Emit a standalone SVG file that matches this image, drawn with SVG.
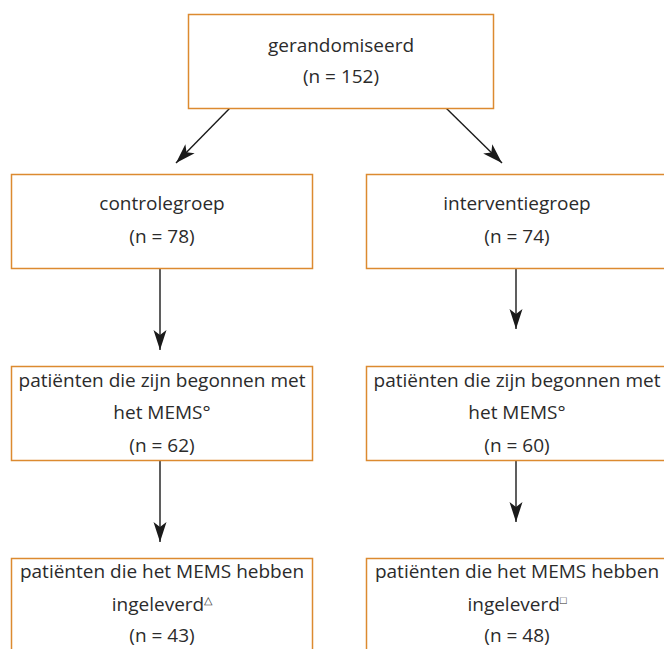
<svg xmlns="http://www.w3.org/2000/svg" width="664" height="649" viewBox="0 0 664 649">
<style>
.box{fill:#fff;stroke:#dc8a30;stroke-width:1.5}
.t{font-family:"Open Sans","Liberation Sans",sans-serif;font-size:19px;fill:#2b2b2b;text-anchor:middle}
.sup{font-size:11px}
.c{stroke:#1a1a1a;stroke-width:1.4;fill:none}
</style>
<defs>
<marker id="ah" markerUnits="userSpaceOnUse" markerWidth="22" markerHeight="14" refX="20" refY="7" orient="auto">
<path d="M0,0.5 L20,7 L0,13.5 L5,7 Z" fill="#1a1a1a"/>
</marker>
</defs>
<rect width="664" height="649" fill="#fff"/>
<g id="connectors">
<line class="c" x1="230" y1="108" x2="176" y2="163" marker-end="url(#ah)"/>
<line class="c" x1="446" y1="108" x2="502" y2="163" marker-end="url(#ah)"/>
<line class="c" x1="160" y1="268" x2="160" y2="350" marker-end="url(#ah)"/>
<line class="c" x1="516" y1="268" x2="516" y2="329" marker-end="url(#ah)"/>
<line class="c" x1="160" y1="460" x2="160" y2="542" marker-end="url(#ah)"/>
<line class="c" x1="516" y1="460" x2="516" y2="522" marker-end="url(#ah)"/>
</g>
<g id="n1">
<rect class="box" x="188.5" y="14.5" width="305" height="94"/>
<text class="t" x="341" y="52">gerandomiseerd</text>
<text class="t" x="341" y="83">(n = 152)</text>
</g>
<g id="n2">
<rect class="box" x="11.5" y="174.5" width="301" height="94"/>
<text class="t" x="162" y="210">controlegroep</text>
<text class="t" x="162" y="243">(n = 78)</text>
</g>
<g id="n3">
<rect class="box" x="366.5" y="174.5" width="302" height="94"/>
<text class="t" x="517" y="210">interventiegroep</text>
<text class="t" x="517" y="243">(n = 74)</text>
</g>
<g id="n4">
<rect class="box" x="11.5" y="366.5" width="301" height="94"/>
<text class="t" x="162" y="387">patiënten die zijn begonnen met</text>
<text class="t" x="162" y="419">het MEMS°</text>
<text class="t" x="162" y="452">(n = 62)</text>
</g>
<g id="n5">
<rect class="box" x="366.5" y="366.5" width="302" height="94"/>
<text class="t" x="517" y="387">patiënten die zijn begonnen met</text>
<text class="t" x="517" y="419">het MEMS°</text>
<text class="t" x="517" y="452">(n = 60)</text>
</g>
<g id="n6">
<rect class="box" x="11.5" y="558.5" width="301" height="100"/>
<text class="t" x="162" y="578">patiënten die het MEMS hebben</text>
<text class="t" x="162" y="611">ingeleverd<tspan class="sup" dy="-7">△</tspan></text>
<text class="t" x="162" y="642">(n = 43)</text>
</g>
<g id="n7">
<rect class="box" x="366.5" y="558.5" width="302" height="100"/>
<text class="t" x="517" y="578">patiënten die het MEMS hebben</text>
<text class="t" x="517" y="611">ingeleverd<tspan class="sup" dy="-7">□</tspan></text>
<text class="t" x="517" y="642">(n = 48)</text>
</g>
</svg>
